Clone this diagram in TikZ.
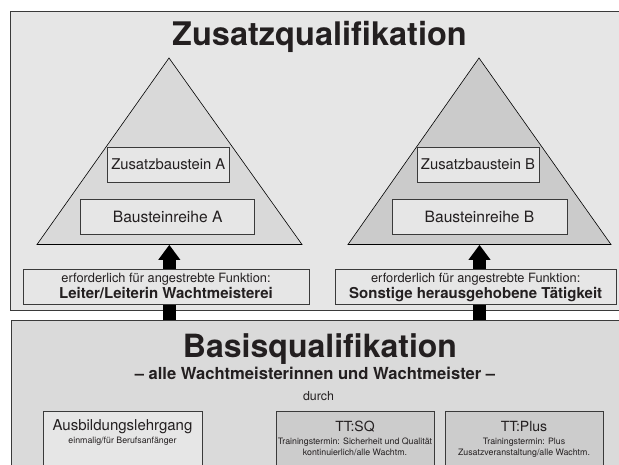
\documentclass[tikz,border=0pt]{standalone}
\usepackage{fontspec}
\setmainfont{TeX Gyre Heros}
\usetikzlibrary{arrows.meta}
\definecolor{ink}{HTML}{231F20}
\definecolor{edge}{HTML}{3A3A3A}
\definecolor{framebg}{HTML}{E6E6E6}
\definecolor{basebg}{HTML}{DADADA}
\definecolor{triA}{HTML}{D9D9D9}
\definecolor{triB}{HTML}{CBCBCB}
\definecolor{boxdark}{HTML}{CCCCCC}
\definecolor{boxlight}{HTML}{E6E6E6}
\newcommand{\fsz}[1]{\fontsize{#1}{#1}\selectfont}
\begin{document}
\begin{tikzpicture}[x=1pt,y=-1pt,
  frame/.style={draw=edge, line width=1.2pt, inner sep=0pt, anchor=north west},
  tri/.style={draw=black, line width=0.6pt},
  inbox/.style={draw=edge, line width=0.9pt, fill=boxlight, inner sep=0pt, text=ink},
  txt/.style={text=ink, inner sep=0pt, anchor=base},
  blockarrow/.style={line width=13.4pt, draw=black, -{Triangle[length=15pt,width=21pt]}}]
\useasboundingbox (0,0) rectangle (619,465);
\clip (0,0) rectangle (619,465);
% frames
\node[frame, fill=framebg, minimum width=640pt, minimum height=299pt] (zq) at (10,11) {};
\node[frame, fill=basebg, minimum width=640pt, minimum height=170pt] (bq) at (11,320) {};
% titles
\node[txt, font=\fsz{32.5}\bfseries] (zqt) at (319.5,46) {Zusatzqualifikation};
\node[txt, font=\fsz{32}\bfseries] (bqt) at (320,357) {Basisqualifikation};
\node[txt, font=\fsz{16.6}\bfseries] (sub) at (315,379) {– alle Wachtmeisterinnen und Wachtmeister –};
\node[txt, font=\fsz{12.4}] (durch) at (318.5,400) {durch};
% triangles
\coordinate (apA) at (169,58);
\coordinate (apB) at (479,58);
\filldraw[tri, fill=triA] (apA) -- (302,244.5) -- (37,244.5) -- cycle;
\filldraw[tri, fill=triB] (apB) -- (611,244.5) -- (348,244.5) -- cycle;
\coordinate (tipA) at (169.3,244.8);
\coordinate (tipB) at (479.5,244.8);
% inner boxes
\node[inbox, minimum width=121.3pt, minimum height=35pt, font=\fsz{14.8}] (zbA) at (168.3,164.5) {Zusatzbaustein A};
\node[inbox, minimum width=174pt, minimum height=35pt, font=\fsz{15.6}] (brA) at (167.7,216.5) {Bausteinreihe A};
\node[inbox, minimum width=122pt, minimum height=35pt, font=\fsz{14.8}] (zbB) at (478,164.5) {Zusatzbaustein B};
\node[inbox, minimum width=175pt, minimum height=35pt, font=\fsz{15.6}] (brB) at (479.5,216.5) {Bausteinreihe B};
% arrows
\coordinate (srcA) at (169.3,320.5);
\coordinate (srcB) at (479.5,320.5);
\draw[blockarrow] (srcA) -- (tipA);
\draw[blockarrow] (srcB) -- (tipB);
% function boxes
\node[inbox, minimum width=286pt, minimum height=35pt] (fA) at (166,286.5) {};
\node[inbox, minimum width=281.5pt, minimum height=35pt] (fB) at (475.7,286.5) {};
\node[txt, font=\fsz{12.8}] (fA1) at (166,283) {erforderlich für angestrebte Funktion:};
\node[txt, font=\fsz{15}\bfseries] (fA2) at (166,298.5) {Leiter/Leiterin Wachtmeisterei};
\node[txt, font=\fsz{12.8}] (fB1) at (475.7,283) {erforderlich für angestrebte Funktion:};
\node[txt, font=\fsz{15}\bfseries] (fB2) at (475.7,298.5) {Sonstige herausgehobene Tätigkeit};
% bottom boxes
\node[inbox, anchor=north west, minimum width=159pt, minimum height=70pt] (ausb) at (43,410.5) {};
\node[inbox, anchor=north west, fill=boxdark, minimum width=158pt, minimum height=70pt] (ttsq) at (276,410.5) {};
\node[inbox, anchor=north west, fill=boxdark, minimum width=158pt, minimum height=70pt] (ttpl) at (445,410.5) {};
\node[txt, font=\fsz{15}] (ausb1) at (122.5,430.5) {Ausbildungslehrgang};
\node[txt, font=\fsz{8.8}] (ausb2) at (122.5,443.5) {einmalig/für Berufsanfänger};
\node[txt, font=\fsz{14}] (ttsq1) at (355,431) {TT:SQ};
\node[txt, font=\fsz{8.8}] (ttsq2) at (355,444) {Trainingstermin: Sicherheit und Qualität};
\node[txt, font=\fsz{8.8}] (ttsq3) at (355,455) {kontinuierlich/alle Wachtm.};
\node[txt, font=\fsz{14}] (ttpl1) at (524,431) {TT:Plus};
\node[txt, font=\fsz{8.8}] (ttpl2) at (524,444) {Trainingstermin: Plus};
\node[txt, font=\fsz{8.8}] (ttpl3) at (524,455) {Zusatzveranstaltung/alle Wachtm.};
\end{tikzpicture}
\end{document}
